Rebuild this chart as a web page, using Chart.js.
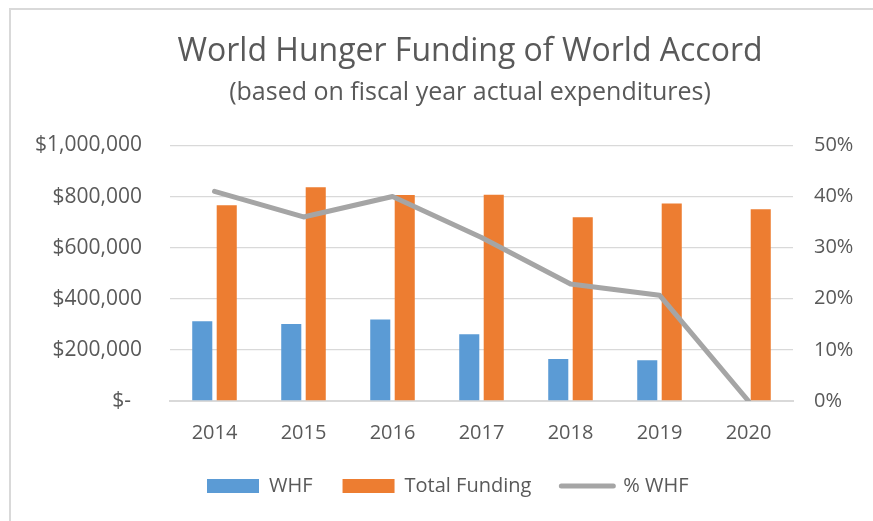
<!DOCTYPE html>
<html>
<head>
<meta charset="utf-8">
<script src="https://cdn.jsdelivr.net/npm/chart.js@4/dist/chart.umd.min.js"></script>
<style>
  html, body { margin: 0; padding: 0; background: #ffffff; overflow: hidden; }
  #wrap { position: relative; width: 873px; height: 521px; }
  #frame { position: absolute; left: 9px; top: 8px; width: 900px; height: 600px;
           border-top: 2px solid #d9d9d9; border-left: 2px solid #d9d9d9; box-sizing: border-box; }
  #c { position: absolute; left: 0; top: 0; }
</style>
</head>
<body>
<div id="wrap">
  <div id="frame"></div>
  <canvas id="c" width="873" height="521"></canvas>
</div>
<script>
const categories = ['2014', '2015', '2016', '2017', '2018', '2019', '2020'];
const whf = [312000, 301000, 319000, 261000, 164000, 159000, 0];
const totalFunding = [766000, 836000, 806000, 807000, 719000, 773000, 750000];
const pctWhf = [41.0, 36.0, 40.0, 32.0, 22.9, 20.7, 0];
const titleText = 'World Hunger Funding of World Accord';
const subtitleText = '(based on fiscal year actual expenditures)';

const FONT = "'Open Sans', sans-serif";
const TXT = '#595959';

// Shift title/subtitle/legend horizontally relative to the plot area (Excel-like placement)
const placeBlocks = {
  id: 'placeBlocks',
  afterLayout(chart) {
    const ca = chart.chartArea;
    chart.boxes.forEach(b => {
      if (b.options && (b.options.text === titleText || b.options.text === subtitleText)) {
        b.left = ca.left - 23; b.right = ca.right; b.width = b.right - b.left;
      }
      if (b === chart.legend) { b.left = ca.left + 7; }
    });
  }
};

new Chart(document.getElementById('c'), {
  type: 'bar',
  data: {
    labels: categories,
    datasets: [
      { type: 'bar', label: 'WHF', data: whf, backgroundColor: '#5b9bd5', yAxisID: 'y',
        categoryPercentage: 0.55, barPercentage: 0.82, order: 2 },
      { type: 'bar', label: 'Total Funding', data: totalFunding, backgroundColor: '#ed7d31', yAxisID: 'y',
        categoryPercentage: 0.55, barPercentage: 0.82, order: 2 },
      { type: 'line', label: '% WHF', data: pctWhf, borderColor: '#a5a5a5', backgroundColor: '#a5a5a5',
        borderWidth: 5, pointRadius: 0, tension: 0, yAxisID: 'y1', order: 1,
        borderJoinStyle: 'round', borderCapStyle: 'round' }
    ]
  },
  plugins: [placeBlocks],
  options: {
    responsive: false,
    animation: false,
    devicePixelRatio: 1,
    layout: { padding: { left: 10, right: 5, top: 0, bottom: 15 } },
    plugins: {
      tooltip: { enabled: false },
      title: { display: true, text: titleText, color: TXT,
        font: { family: FONT, size: 32, weight: 'normal' }, padding: { top: 33, bottom: 0 } },
      subtitle: { display: true, text: subtitleText, color: TXT,
        font: { family: FONT, size: 25, weight: 'normal' }, padding: { top: 6, bottom: 38 } },
      legend: {
        position: 'bottom', fullSize: false, align: 'start',
        labels: {
          usePointStyle: true, pointStyleWidth: 52, boxHeight: 14, padding: 30,
          color: TXT, font: { family: FONT, size: 20 },
          generateLabels(chart) {
            return chart.data.datasets.map((ds, i) => {
              const isLine = ds.type === 'line';
              const col = isLine ? ds.borderColor : ds.backgroundColor;
              return { text: ds.label, fillStyle: col, strokeStyle: col,
                lineWidth: isLine ? 5 : 0, lineCap: 'round',
                pointStyle: isLine ? 'line' : 'rect', datasetIndex: i, hidden: false, fontColor: TXT };
            });
          }
        }
      }
    },
    scales: {
      x: {
        grid: { display: false, drawTicks: false },
        border: { display: true, color: '#d9d9d9', width: 2 },
        ticks: { color: TXT, font: { family: FONT, size: 20 }, padding: 20 },
        afterFit(s) { s.height = 45; }
      },
      y: {
        position: 'left', min: 0, max: 1000000,
        grid: { color: '#d9d9d9', lineWidth: 1.3, drawTicks: false },
        border: { display: false },
        ticks: { stepSize: 200000, color: TXT, font: { family: FONT, size: 21 }, padding: 28,
          callback: v => v === 0 ? '$-  ' : '$' + v.toLocaleString('en-US') },
        afterFit(s) { s.width = 160; }
      },
      y1: {
        position: 'right', min: 0, max: 50,
        grid: { display: false, drawTicks: false },
        border: { display: false },
        ticks: { stepSize: 10, color: TXT, font: { family: FONT, size: 20 }, padding: 21,
          callback: v => v + '%' },
        afterFit(s) { s.width = 75; }
      }
    }
  }
});
</script>
</body>
</html>
